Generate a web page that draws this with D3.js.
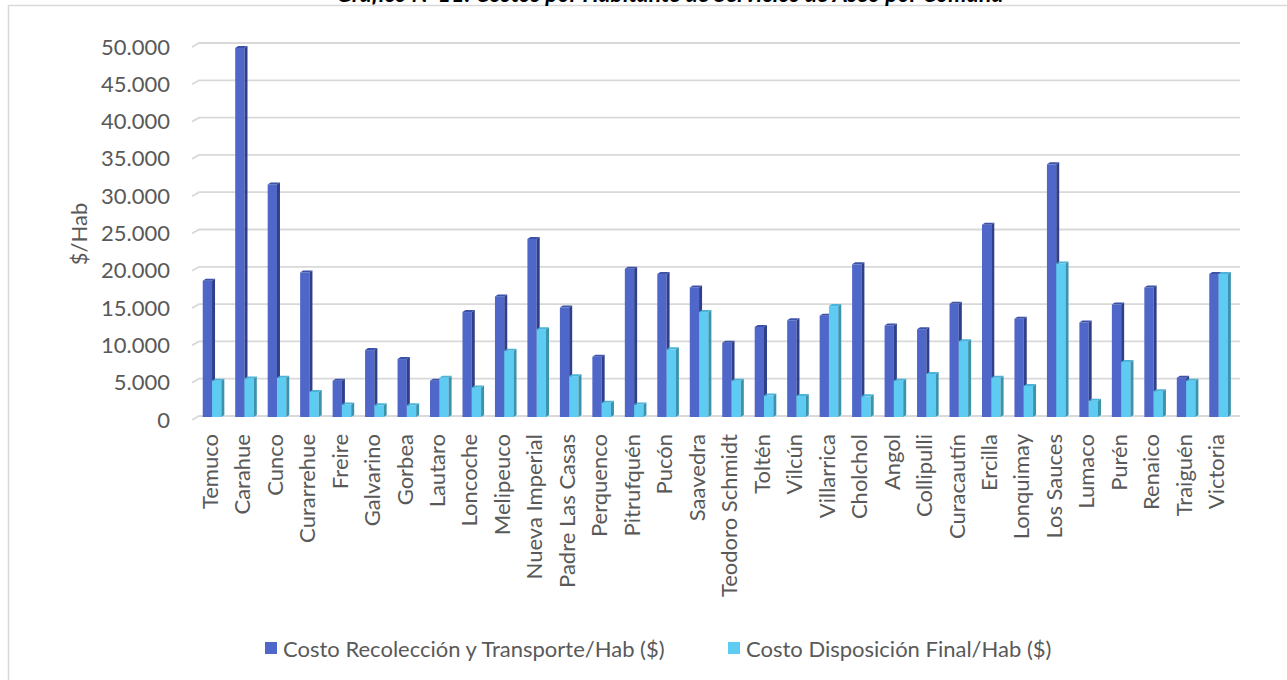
<!DOCTYPE html>
<html><head><meta charset="utf-8">
<script src="https://cdn.jsdelivr.net/npm/d3@7"></script>
<style>
html,body{margin:0;padding:0;background:#fff;overflow:hidden;}
svg{display:block;font-family:Lato,"Open Sans",sans-serif;}
</style></head>
<body><svg id="c" width="1287" height="680"></svg>
<script>
const categories = ["Temuco","Carahue","Cunco","Curarrehue","Freire","Galvarino","Gorbea","Lautaro","Loncoche","Melipeuco","Nueva Imperial","Padre Las Casas","Perquenco","Pitrufquén","Pucón","Saavedra","Teodoro Schmidt","Toltén","Vilcún","Villarrica","Cholchol","Angol","Collipulli","Curacautín","Ercilla","Lonquimay","Los Sauces","Lumaco","Purén","Renaico","Traiguén","Victoria"];
const recoleccion = [18400,49600,31300,19500,5000,9100,7900,5000,14200,16300,24000,14800,8200,20000,19300,17500,10100,12200,13100,13700,20600,12400,11900,15300,25900,13300,34000,12800,15200,17500,5400,19300];
const disposicion = [5000,5300,5400,3500,1800,1700,1700,5400,4100,9000,11900,5600,2050,1800,9200,14200,5000,3000,2950,15000,2900,5000,5900,10300,5400,4300,20700,2300,7500,3600,5000,19300];
const seriesNames = ["Costo Recolección y Transporte/Hab ($)","Costo Disposición Final/Hab ($)"];
const yTicks = [0,5000,10000,15000,20000,25000,30000,35000,40000,45000,50000];
const title = "Gráfico N°11: Costos por Habitante de Servicios de Aseo por Comuna";
const yTitle = "$/Hab";

const svg = d3.select("#c");
const txt = "#595959";
const colors = [
  {front:"#4E67C8", side:"#2F3F8A", top:"#3C52A8"},
  {front:"#5DCBF2", side:"#3C93AC", top:"#4AB3D9"}
];

// chart border
svg.append("rect").attr("x",8.5).attr("y",5.5).attr("width",1300).attr("height",700)
  .attr("fill","none").attr("stroke","#d9d9d9").attr("stroke-width",1.5);

// title (cut off at top as in reference)
svg.append("text").attr("x",670).attr("y",2).attr("text-anchor","middle")
  .attr("font-size",23).attr("font-weight","bold").attr("font-style","italic")
  .attr("fill","#000").text(title);

const y = d3.scaleLinear().domain([0,50000]).range([416,43]);
const x = d3.scaleBand().domain(categories).range([195.8,1234.8]).paddingInner(0).paddingOuter(0);
const bw = 9.3, dep = 3, dv = 2;

// gridlines
const grid = svg.append("g");
yTicks.forEach(v=>{
  const gy = y(v);
  grid.append("path")
    .attr("d",`M192,${gy+4}L199,${gy}L1240,${gy}`)
    .attr("fill","none").attr("stroke","#d9d9d9").attr("stroke-width",v===0?2:1.8);
});

// y tick labels
const yAxis = d3.axisLeft(y).tickValues(yTicks).tickSize(0).tickPadding(0)
  .tickFormat(d=>d3.format(",")(d).replace(/,/g,"."));
const ya = svg.append("g").attr("transform","translate(170,4)").call(yAxis);
ya.select(".domain").remove();
ya.selectAll("text").attr("font-size",22).attr("fill",txt).attr("font-family","Lato,'Open Sans',sans-serif");

// y title
svg.append("text").attr("transform","translate(78,234) rotate(-90)")
  .attr("text-anchor","middle").attr("dominant-baseline","central")
  .attr("font-size",22).attr("fill",txt).text(yTitle);

// bars
const base = y(0)+1;
function bar(g, x0, v, c){
  const yt = y(v)+2;
  g.append("rect").attr("x",x0).attr("y",yt).attr("width",bw).attr("height",base-yt).attr("fill",c.front);
  g.append("path").attr("d",`M${x0+bw},${yt}L${x0+bw+dep},${yt-dv}L${x0+bw+dep},${base-dv}L${x0+bw},${base}Z`).attr("fill",c.side);
  g.append("path").attr("d",`M${x0},${yt}L${x0+dep},${yt-dv}L${x0+bw+dep},${yt-dv}L${x0+bw},${yt}Z`).attr("fill",c.top);
}
const bars = svg.append("g");
categories.forEach((cat,i)=>{
  const cx = x(cat)+x.bandwidth()/2;
  bar(bars, cx-bw, recoleccion[i], colors[0]);
  bar(bars, cx, disposicion[i], colors[1]);
});

// x labels
const xAxis = d3.axisBottom(x).tickSize(0).tickPadding(0);
const xa = svg.append("g").attr("transform","translate(-2,434)").call(xAxis);
xa.select(".domain").remove();
xa.selectAll("text").attr("transform","rotate(-90)").attr("text-anchor","end")
  .attr("dy","0.35em").attr("x",0).attr("y",0)
  .attr("font-size",22).attr("fill",txt).attr("font-family","Lato,'Open Sans',sans-serif");

// legend
const leg = [{x:265, tx:283},{x:728, tx:746}];
seriesNames.forEach((n,i)=>{
  svg.append("rect").attr("x",leg[i].x).attr("y",642).attr("width",12).attr("height",12).attr("fill",colors[i].front);
  svg.append("text").attr("x",leg[i].tx).attr("y",648).attr("dominant-baseline","central")
    .attr("font-size",22).attr("fill",txt).text(n);
});
</script></body></html>
